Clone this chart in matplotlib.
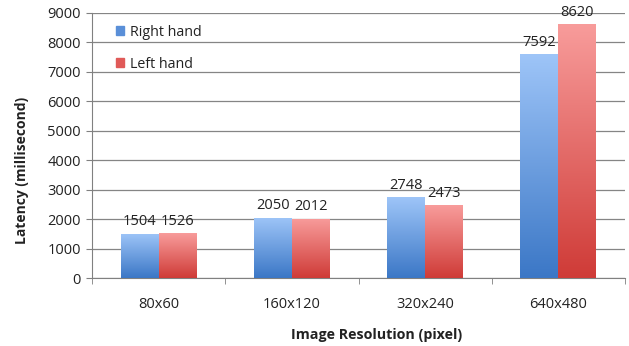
import numpy as np
import matplotlib
matplotlib.use("Agg")
import matplotlib.pyplot as plt
from matplotlib.colors import LinearSegmentedColormap

categories = ["80x60", "160x120", "320x240", "640x480"]
right_hand = [1504, 2050, 2748, 7592]
left_hand = [1526, 2012, 2473, 8620]
series_names = ["Right hand", "Left hand"]

plt.rcParams['font.family'] = ['Open Sans', 'DejaVu Sans']

fig = plt.figure(figsize=(6.29, 3.46), dpi=100)
ax = fig.add_axes([92/629, 1-278/346, (625-92)/629, (278-13)/346])

x = np.arange(len(categories))
w = 0.285
blue_cmap = LinearSegmentedColormap.from_list("b", ["#3B77C6", "#9EC5F8"])
red_cmap = LinearSegmentedColormap.from_list("r", ["#CF3B37", "#F89C9B"])
grad = np.linspace(0, 1, 256).reshape(-1, 1)

handles = []
for vals, off, cmap, name, mid in [(right_hand, -w/2, blue_cmap, series_names[0], "#5A8FD8"),
                                   (left_hand, w/2, red_cmap, series_names[1], "#E05A58")]:
    bars = ax.bar(x + off, vals, width=w, color='none', edgecolor='none', label=name, zorder=3)
    for b, v in zip(bars, vals):
        x0, y0 = b.get_x(), b.get_y()
        im = ax.imshow(grad, extent=[x0, x0 + b.get_width(), y0, y0 + b.get_height()],
                       origin='lower', cmap=cmap, aspect='auto', zorder=3)
        im.set_clip_path(b)
        ax.text(b.get_x() + b.get_width()/2, v + 150, f"{v}", ha='center', va='bottom',
                fontsize=10.5, color='#222222', zorder=4)
    handles.append(plt.Rectangle((0, 0), 1, 1, color=mid))

ax.set_xlim(-0.5, len(categories) - 0.5)
ax.set_ylim(0, 9000)
ax.set_yticks(np.arange(0, 9001, 1000))
ax.tick_params(axis='y', labelsize=10.5, colors='#222222', length=4, direction='out', pad=4)
ax.set_xticks(x)
ax.set_xticklabels(categories)
ax.set_xticks(np.arange(-0.5, len(categories), 1.0), minor=True)
ax.tick_params(axis='x', which='major', length=0, labelsize=10.5, colors='#222222', pad=14)
ax.tick_params(axis='x', which='minor', length=4, color='#808080', direction='out')
ax.grid(axis='y', color='#858585', linewidth=0.9, zorder=0)
ax.set_axisbelow(True)
for s in ['top', 'right']:
    ax.spines[s].set_visible(False)
for s in ['left', 'bottom']:
    ax.spines[s].set_color('#808080')
ax.tick_params(axis='y', color='#808080')

ax.set_ylabel("Latency (millisecond)", fontsize=10, fontweight='bold', color='#222222')
ax.set_xlabel("Image Resolution (pixel)", fontsize=10.3, fontweight='bold', color='#222222')
ax.yaxis.set_label_coords((22 - 92) / 533, (278 - 170) / 265)
ax.xaxis.set_label_coords((377 - 92) / 533, -(335 - 278) / 265)
ax.yaxis.label.set_va('center')
ax.xaxis.label.set_va('center')

leg = ax.legend(handles, series_names, loc='upper left', bbox_to_anchor=(0.02, 1.005),
                frameon=False, fontsize=10.3, handlelength=0.6, handleheight=0.6,
                labelspacing=1.2, handletextpad=0.4)
for t in leg.get_texts():
    t.set_color('#222222')

fig.savefig("out.png", dpi=100)
